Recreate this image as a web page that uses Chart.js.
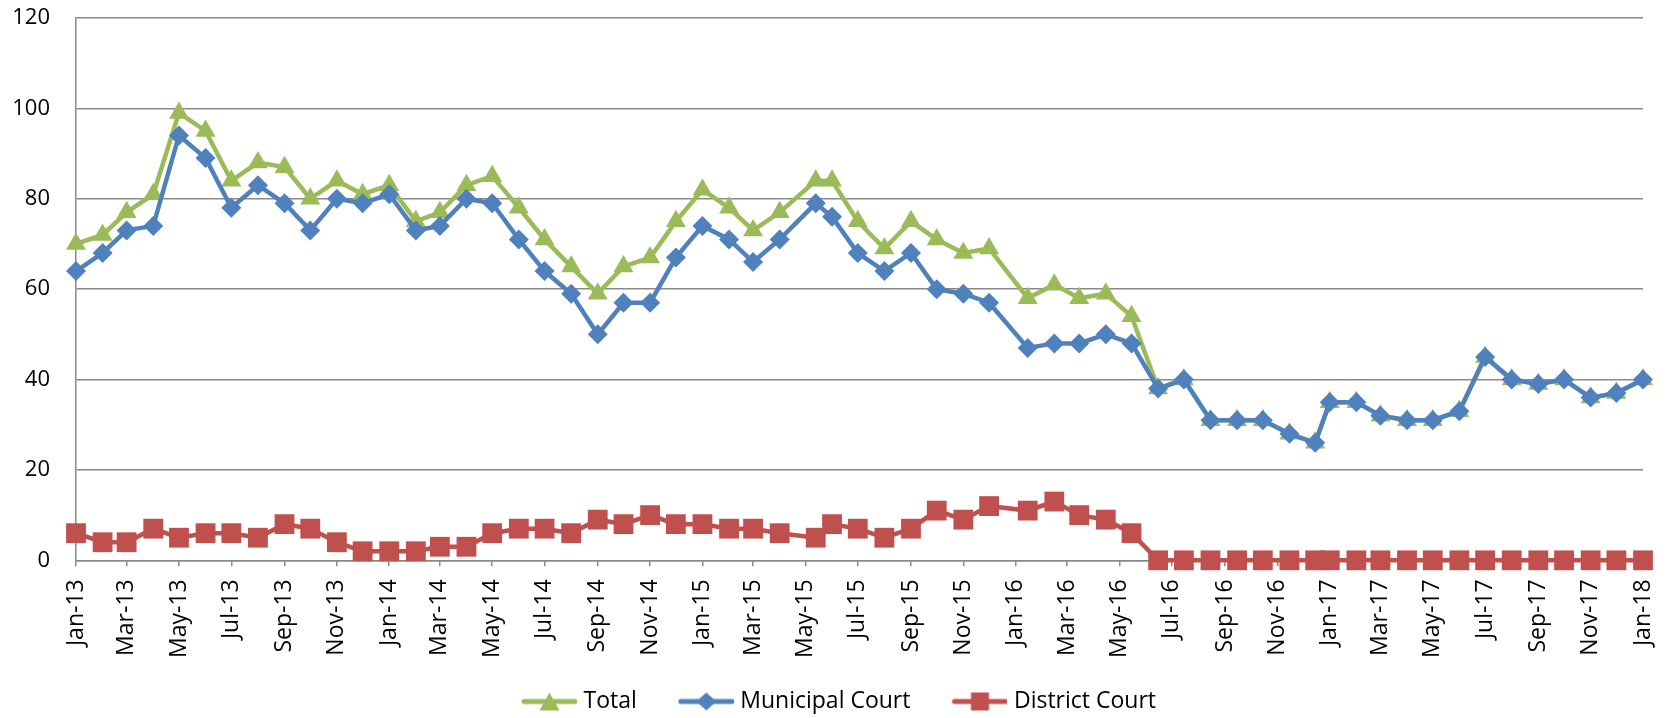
<!DOCTYPE html>
<html>
<head>
<meta charset="utf-8">
<title>Court filings</title>
<script src="https://cdn.jsdelivr.net/npm/chart.js@4.4.0/dist/chart.umd.min.js"></script>
<style>
  body { margin: 0; background: #fff; }
  #wrap { width: 1667px; height: 718px; position: relative; }
</style>
</head>
<body>
<div id="wrap"><canvas id="courtChart"></canvas></div>
<script>
// Data (point dates are not all on the 1st of the month)
const dates = [
  '2013-01-01', '2013-02-01', '2013-03-01', '2013-04-01', '2013-05-01', '2013-06-01',
  '2013-07-01', '2013-08-01', '2013-09-01', '2013-10-01', '2013-11-01', '2013-12-01',
  '2014-01-01', '2014-02-01', '2014-03-01', '2014-04-01', '2014-05-01', '2014-06-01',
  '2014-07-01', '2014-08-01', '2014-09-01', '2014-10-01', '2014-11-01', '2014-12-01',
  '2015-01-01', '2015-02-01', '2015-03-01', '2015-04-01', '2015-05-13', '2015-06-01',
  '2015-07-01', '2015-08-01', '2015-09-01', '2015-10-01', '2015-11-01', '2015-12-01',
  '2016-01-15', '2016-02-15', '2016-03-15', '2016-04-15', '2016-05-15', '2016-06-15',
  '2016-07-15', '2016-08-15', '2016-09-15', '2016-10-15', '2016-11-15', '2016-12-15',
  '2017-01-01', '2017-02-01', '2017-03-01', '2017-04-01', '2017-05-01', '2017-06-01',
  '2017-07-01', '2017-08-01', '2017-09-01', '2017-10-01', '2017-11-01', '2017-12-01',
  '2018-01-01'
];
const total = [
  70, 72, 77, 81, 99, 95, 84, 88, 87, 80, 84, 81,
  83, 75, 77, 83, 85, 78, 71, 65, 59, 65, 67, 75,
  82, 78, 73, 77, 84, 84, 75, 69, 75, 71, 68, 69,
  58, 61, 58, 59, 54, 38, 40, 31, 31, 31, 28, 26,
  35, 35, 32, 31, 31, 33, 45, 40, 39, 40, 36, 37,
  40
];
const municipal = [
  64, 68, 73, 74, 94, 89, 78, 83, 79, 73, 80, 79,
  81, 73, 74, 80, 79, 71, 64, 59, 50, 57, 57, 67,
  74, 71, 66, 71, 79, 76, 68, 64, 68, 60, 59, 57,
  47, 48, 48, 50, 48, 38, 40, 31, 31, 31, 28, 26,
  35, 35, 32, 31, 31, 33, 45, 40, 39, 40, 36, 37,
  40
];
const district = [
  6, 4, 4, 7, 5, 6, 6, 5, 8, 7, 4, 2,
  2, 2, 3, 3, 6, 7, 7, 6, 9, 8, 10, 8,
  8, 7, 7, 6, 5, 8, 7, 5, 7, 11, 9, 12,
  11, 13, 10, 9, 6, 0, 0, 0, 0, 0, 0, 0,
  0, 0, 0, 0, 0, 0, 0, 0, 0, 0, 0, 0,
  0
];
const tickLabels = [
  'Jan-13', 'Mar-13', 'May-13', 'Jul-13', 'Sep-13', 'Nov-13',
  'Jan-14', 'Mar-14', 'May-14', 'Jul-14', 'Sep-14', 'Nov-14',
  'Jan-15', 'Mar-15', 'May-15', 'Jul-15', 'Sep-15', 'Nov-15',
  'Jan-16', 'Mar-16', 'May-16', 'Jul-16', 'Sep-16', 'Nov-16',
  'Jan-17', 'Mar-17', 'May-17', 'Jul-17', 'Sep-17', 'Nov-17',
  'Jan-18'
];
const yTicks = [0, 20, 40, 60, 80, 100, 120];

const MONTHS = ['Jan', 'Feb', 'Mar', 'Apr', 'May', 'Jun', 'Jul', 'Aug', 'Sep', 'Oct', 'Nov', 'Dec'];
const dayOf = (iso) => (Date.parse(iso) - Date.parse('2013-01-01')) / 86400000;
const labelDay = (lbl) => {
    const [m, y] = lbl.split('-');
    return dayOf('20' + y + '-' + String(MONTHS.indexOf(m) + 1).padStart(2, '0') + '-01');
};
const toPoints = (values) => values.map((v, i) => ({ x: dayOf(dates[i]), y: v }));

const GREEN = '#9BBB59';
const BLUE = '#4F81BD';
const RED = '#C0504D';
const GRID = '#898989';
const FONT = '"Open Sans", "Noto Sans", sans-serif';

// Legend icons: line with the marker on it, like the spreadsheet legend.
// Transparent room on the left gives the gap between legend entries.
const LEGEND_PAD = 19;
const ICON_BOX = 92 - LEGEND_PAD;
const legendIcon = (color, shape) => {
    const c = document.createElement('canvas');
    c.width = ICON_BOX + 10;
    c.height = 24;
    const ctx = c.getContext('2d');
    const x0 = c.width - 55, mid = x0 + 27.5, cy = 12;
    ctx.strokeStyle = color;
    ctx.fillStyle = color;
    ctx.lineWidth = 5;
    ctx.lineCap = 'round';
    ctx.beginPath();
    ctx.moveTo(x0 + 2, cy);
    ctx.lineTo(c.width - 2, cy);
    ctx.stroke();
    ctx.beginPath();
    if (shape === 'triangle') {
        ctx.moveTo(mid, cy - 9); ctx.lineTo(mid + 10, cy + 9); ctx.lineTo(mid - 10, cy + 9);
    } else if (shape === 'diamond') {
        ctx.moveTo(mid, cy - 9); ctx.lineTo(mid + 10, cy); ctx.lineTo(mid, cy + 9); ctx.lineTo(mid - 10, cy);
    } else {
        ctx.rect(mid - 9, cy - 9, 18, 18);
    }
    ctx.closePath();
    ctx.fill();
    return c;
};
const icons = [legendIcon(GREEN, 'triangle'), legendIcon(BLUE, 'diamond'), legendIcon(RED, 'square')];

const ctx = document.getElementById('courtChart').getContext('2d');
new Chart(ctx, {
    type: 'line',
    data: {
        datasets: [{
            label: 'Total',
            data: toPoints(total),
            borderColor: GREEN,
            backgroundColor: GREEN,
            borderWidth: 4.5,
            pointStyle: 'triangle',
            pointRadius: 11.5,
            pointBorderWidth: 0,
            order: 3,
            clip: false
        }, {
            label: 'Municipal Court',
            data: toPoints(municipal),
            borderColor: BLUE,
            backgroundColor: BLUE,
            borderWidth: 4.5,
            pointStyle: 'rectRot',
            pointRadius: 10,
            pointBorderWidth: 0,
            order: 2,
            clip: false
        }, {
            label: 'District Court',
            data: toPoints(district),
            borderColor: RED,
            backgroundColor: RED,
            borderWidth: 4.5,
            pointStyle: 'rect',
            pointRadius: 14,
            pointBorderWidth: 0,
            order: 1,
            clip: false
        }]
    },
    options: {
        responsive: true,
        maintainAspectRatio: false,
        animation: false,
        layout: {
            autoPadding: false,
            padding: { top: 18, right: 24, left: 12, bottom: -5 }
        },
        plugins: {
            tooltip: { enabled: false },
            legend: {
                position: 'bottom',
                labels: {
                    usePointStyle: true,
                    pointStyleWidth: ICON_BOX,
                    padding: LEGEND_PAD,
                    color: '#000',
                    font: { family: FONT, size: 23 },
                    generateLabels: (chart) => chart.data.datasets.map((ds, i) => ({
                        text: ds.label,
                        pointStyle: icons[i],
                        fillStyle: ds.borderColor,
                        strokeStyle: ds.borderColor,
                        lineWidth: 0,
                        hidden: false,
                        datasetIndex: i,
                        fontColor: '#000'
                    }))
                }
            }
        },
        scales: {
            x: {
                type: 'linear',
                min: labelDay(tickLabels[0]),
                max: labelDay(tickLabels[tickLabels.length - 1]),
                afterBuildTicks: (axis) => {
                    axis.ticks = tickLabels.map((l) => ({ value: labelDay(l) }));
                },
                afterFit: (axis) => {
                    axis.paddingLeft = 0;
                    axis.paddingRight = 0;
                },
                ticks: {
                    autoSkip: false,
                    maxRotation: 90,
                    minRotation: 90,
                    padding: 13,
                    color: '#000',
                    font: { family: FONT, size: 23 },
                    callback: (value, index) => tickLabels[index]
                },
                grid: {
                    drawOnChartArea: false,
                    drawTicks: true,
                    tickLength: 6,
                    color: GRID,
                    lineWidth: 1.5
                },
                border: { color: GRID, width: 1.5 }
            },
            y: {
                min: yTicks[0],
                max: yTicks[yTicks.length - 1],
                afterBuildTicks: (axis) => {
                    axis.ticks = yTicks.map((v) => ({ value: v }));
                },
                afterFit: (axis) => {
                    axis.width = 64;
                    axis.paddingTop = 0;
                    axis.paddingBottom = 0;
                },
                ticks: {
                    padding: 26,
                    color: '#000',
                    font: { family: FONT, size: 22 }
                },
                grid: {
                    drawTicks: false,
                    color: GRID,
                    lineWidth: 1.5
                },
                border: { color: GRID, width: 1.5 }
            }
        }
    }
});
</script>
</body>
</html>
